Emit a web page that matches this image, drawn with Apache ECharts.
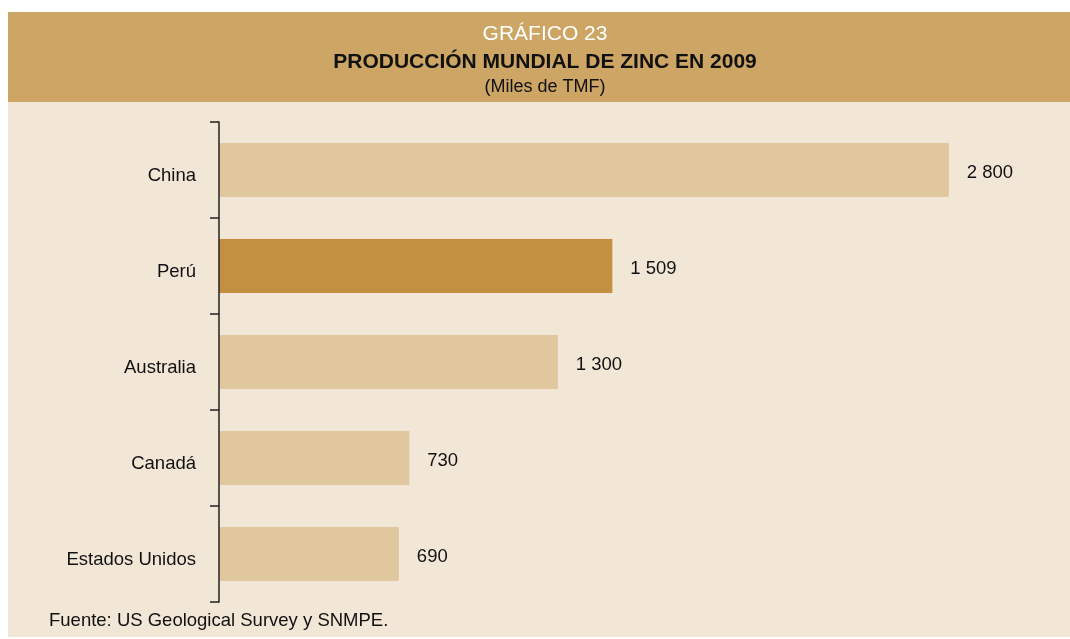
<!DOCTYPE html>
<html>
<head>
<meta charset="utf-8">
<script src="https://cdn.jsdelivr.net/npm/echarts@6/dist/echarts.min.js"></script>
<style>
  html, body { margin: 0; padding: 0; background: #ffffff; }
  #chart { width: 1070px; height: 639px; }
</style>
</head>
<body>
<div id="chart"></div>
<script>
const countries = ['China', 'Perú', 'Australia', 'Canadá', 'Estados Unidos']
const production = [2800, 1509, 1300, 730, 690]
const highlight = 'Perú'

const BAR = '#E0C79E'
const PERU = '#C29040'
const FONT = '"Liberation Sans", Arial, sans-serif'

const fmt = v => String(v).replace(/\B(?=(\d{3})+(?!\d))/g, ' ')

const chart = echarts.init(document.getElementById('chart'))
chart.setOption({
  backgroundColor: '#ffffff',
  textStyle: { fontFamily: FONT },
  graphic: [
    { type: 'rect', z: -10, shape: { x: 8, y: 102, width: 1062, height: 535 }, style: { fill: '#F2E6D7' } },
    { type: 'rect', z: -10, shape: { x: 8, y: 12, width: 1062, height: 90 }, style: { fill: '#CDA564' } },
    { type: 'text', style: { text: 'GRÁFICO 23', x: 545, y: 34, align: 'center', verticalAlign: 'middle', fill: '#ffffff', font: '21px ' + FONT } },
    { type: 'text', style: { text: 'PRODUCCIÓN MUNDIAL DE ZINC EN 2009', x: 545, y: 62, align: 'center', verticalAlign: 'middle', fill: '#111111', font: 'bold 21px ' + FONT } },
    { type: 'text', style: { text: '(Miles de TMF)', x: 545, y: 87, align: 'center', verticalAlign: 'middle', fill: '#111111', font: '18px ' + FONT } },
    { type: 'text', style: { text: 'Fuente: US Geological Survey y SNMPE.', x: 49, y: 621, verticalAlign: 'middle', fill: '#111111', font: '18.5px ' + FONT } }
  ],
  grid: { left: 219, right: 69, top: 122, bottom: 37 },
  xAxis: {
    type: 'value', min: 0, max: 3000, show: false
  },
  yAxis: {
    type: 'category',
    inverse: true,
    z: 5,
    data: countries,
    axisLine: { lineStyle: { color: '#222222', width: 1.5 } },
    axisTick: { show: true, inside: false, length: 9, lineStyle: { color: '#222222', width: 1.5 } },
    axisLabel: {
      color: '#111111', fontSize: 18.5, margin: 23, fontFamily: FONT,
      verticalAlign: 'top', lineHeight: 12
    }
  },
  series: [{
    type: 'bar',
    barWidth: 54,
    data: production.map((v, i) => ({
      value: v,
      itemStyle: { color: countries[i] === highlight ? PERU : BAR }
    })),
    label: {
      show: true, position: 'right', distance: 18, offset: [0, 3],
      color: '#111111', fontSize: 18.5, fontFamily: FONT,
      formatter: p => fmt(p.value)
    },
    animation: false
  }],
  animation: false
})
</script>
</body>
</html>
